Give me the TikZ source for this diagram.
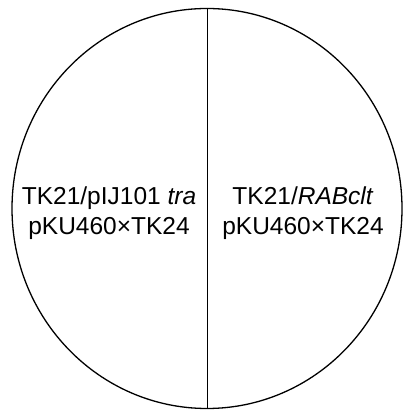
\documentclass[tikz,border=0pt]{standalone}
\usepackage{fontspec}
\setmainfont{Liberation Sans}
\usetikzlibrary{shapes.geometric,positioning}

\begin{document}
\begin{tikzpicture}[x=1pt,y=1pt,
plate/.style={draw,ellipse,line width=1.3pt,inner sep=0pt,minimum width=390pt,minimum height=400pt},
strain/.style={align=center,inner sep=0pt,font=\fontsize{24.5}{29.5}\selectfont}]
\useasboundingbox (0,0) rectangle (403,412);
\node[plate] (dish) at (207,203.5) {};
\path[-]
(dish.north) edge [line width=0.9pt] (dish.south)
;
\node[strain] (lhalf) at (109,199) {TK21/pIJ101 \textit{tra}\\pKU460\texttimes TK24};
\node[strain] (rhalf) at (303,199) {TK21/\textit{RABclt}\\pKU460\texttimes TK24};
\end{tikzpicture}
\end{document}
